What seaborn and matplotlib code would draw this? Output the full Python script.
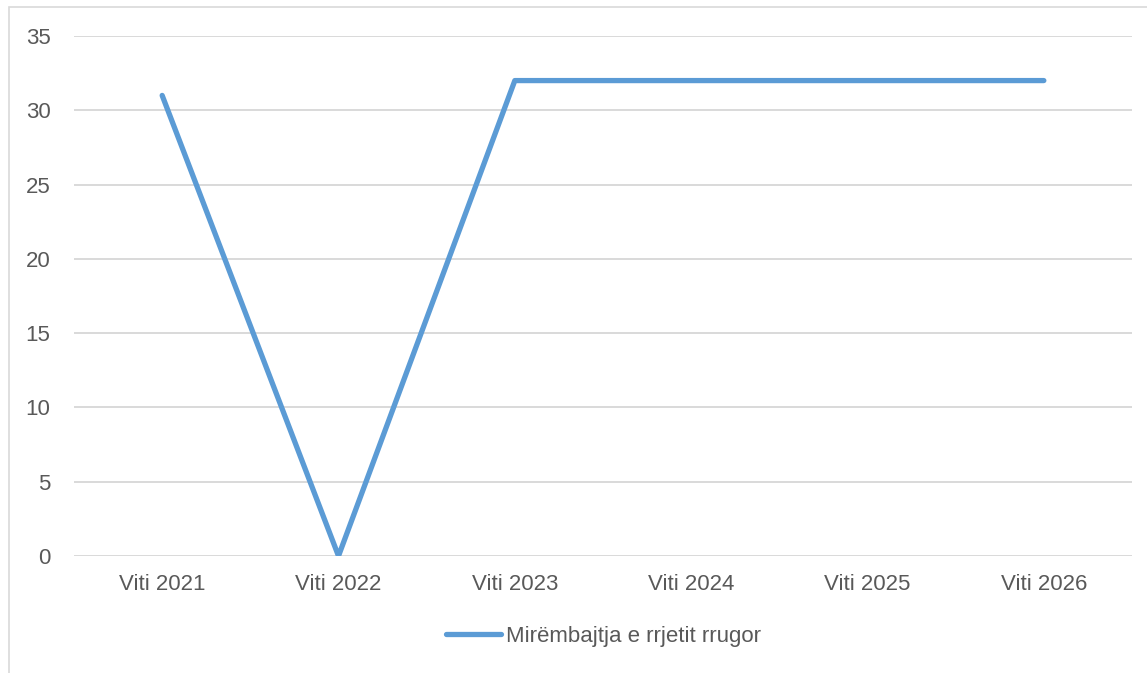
import matplotlib
matplotlib.use("Agg")
import matplotlib.pyplot as plt
import matplotlib.patches as mpatches
import pandas as pd
import seaborn as sns

years = ['Viti 2021', 'Viti 2022', 'Viti 2023', 'Viti 2024', 'Viti 2025', 'Viti 2026']
values = [31, 0, 32, 32, 32, 32]
series_name = 'Mirëmbajtja e rrjetit rrugor'

sns.set_style('white')
plt.rcParams['font.family'] = ['Liberation Sans', 'DejaVu Sans']

df = pd.DataFrame({'viti': years, 'vlera': values, 'seria': series_name})

fig = plt.figure(figsize=(11.47, 6.73), dpi=100)
ax = fig.add_axes([74 / 1147, 1 - 556 / 673, (1132 - 74) / 1147, (556 - 36) / 673])

sns.lineplot(data=df, x='viti', y='vlera', hue='seria', palette=['#5B9BD5'],
             linewidth=3.8, sort=False, ax=ax, solid_capstyle='round')

ax.set_xlim(-0.5, 5.5)
ax.set_ylim(0, 35)
ax.set_yticks(range(0, 36, 5))
ax.grid(axis='y', color='#d9d9d9', linewidth=1.4)
ax.set_axisbelow(True)
for s in ax.spines.values():
    s.set_visible(False)
ax.set_xlabel('')
ax.set_ylabel('')
ax.tick_params(axis='both', length=0, labelsize=16, labelcolor='#595959')
ax.tick_params(axis='x', pad=13)
ax.tick_params(axis='y', pad=17)

leg = ax.legend(loc='center', bbox_to_anchor=(0.5, -0.155), frameon=False,
                fontsize=16, handlelength=2.5, handletextpad=0.2)
for t in leg.get_texts():
    t.set_color('#595959')
for h in leg.get_lines():
    h.set_linewidth(3.8)

# chart border like the office chart frame
frame = mpatches.Rectangle((9 / 1147, -0.05), 1.2, 1 - 7 / 673 + 0.05,
                           transform=fig.transFigure, fill=False,
                           edgecolor='#d9d9d9', linewidth=1.2, clip_on=False)
fig.patches.append(frame)

fig.savefig('out.png', dpi=100)
